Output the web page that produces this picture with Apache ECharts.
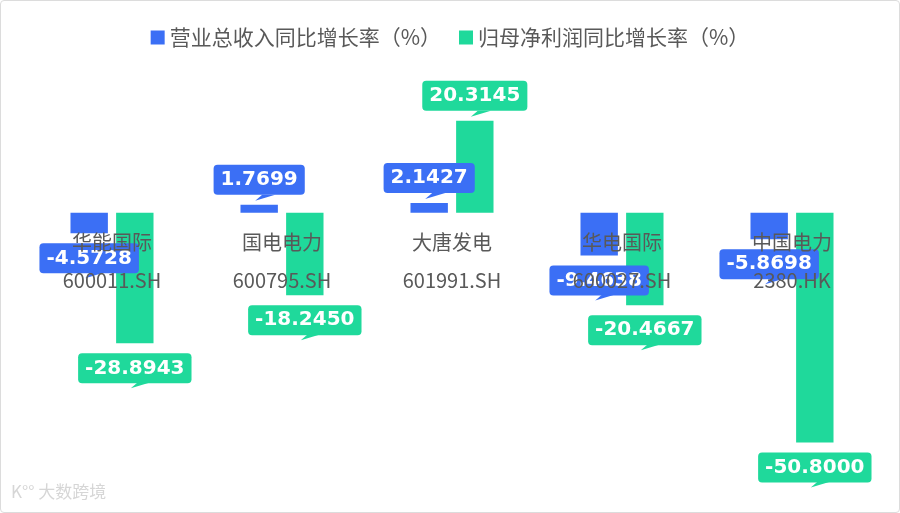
<!DOCTYPE html>
<html>
<head>
<meta charset="utf-8">
<script src="https://cdn.jsdelivr.net/npm/echarts@6/dist/echarts.min.js"></script>
<style>
html,body{margin:0;padding:0;background:#fff;}
#chart{width:900px;height:513px;box-sizing:border-box;border:1px solid #dcdcdc;border-radius:4px;}
</style>
</head>
<body>
<div id="chart"></div>
<script>
const categories = ['华能国际\n600011.SH', '国电电力\n600795.SH', '大唐发电\n601991.SH', '华电国际\n600027.SH', '中国电力\n2380.HK'];
const seriesNames = ['营业总收入同比增长率（%）', '归母净利润同比增长率（%）'];
const revenueGrowth = [-4.5728, 1.7699, 2.1427, -9.4638, -5.8698];
const profitGrowth = [-28.8943, -18.2450, 20.3145, -20.4667, -50.8000];
const colors = ['#3b6ff5', '#1fd99b'];
const yMin = -60, yMax = 30;

const chart = echarts.init(document.getElementById('chart'));

const LABEL_DIST = 10, LABEL_H = 30;

function makeLabel(color) {
  return {
    show: true,
    position: 'top',
    distance: LABEL_DIST,
    formatter: p => p.value.toFixed(4),
    color: '#fff',
    fontFamily: 'DejaVu Sans',
    fontWeight: 'bold',
    fontSize: 20,
    lineHeight: 20,
    backgroundColor: color,
    borderRadius: 4,
    padding: [5, 7, 5, 7]
  };
}

function makeSeries(name, data, color) {
  return {
    name: name,
    type: 'bar',
    barWidth: '22%',
    barGap: '22%',
    itemStyle: { color: color },
    data: data.map(v => ({
      value: v,
      label: Object.assign(makeLabel(color), { position: v >= 0 ? 'top' : 'bottom' })
    })),
    markPoint: {
      silent: true,
      animation: false,
      symbol: 'path://M0,6 L7,0 L20,0 Z',
      symbolSize: [20, 6],
      symbolKeepAspect: false,
      itemStyle: { color: color },
      label: { show: false },
      data: data.map((v, i) => ({
        coord: [i, v],
        symbolOffset: v >= 0 ? [6, -LABEL_DIST + 3] : [6, LABEL_DIST + LABEL_H + 2]
      }))
    }
  };
}

const gridTop = 76, gridBottom = 28;
const plotH = chart.getHeight() - gridTop - gridBottom;
const zeroOffset = -Math.round(plotH * (0 - yMin) / (yMax - yMin));

chart.setOption({
  animation: false,
  color: colors,
  legend: {
    top: 21,
    left: 'center',
    itemWidth: 14,
    itemHeight: 14,
    itemGap: 18,
    icon: 'rect',
    textStyle: { fontSize: 21, color: '#595959', fontFamily: 'Noto Sans CJK SC' },
    data: seriesNames
  },
  grid: { left: 26, right: 22, top: gridTop, bottom: gridBottom, containLabel: false, outerBoundsMode: 'none' },
  xAxis: {
    type: 'category',
    data: categories,
    position: 'bottom',
    offset: zeroOffset,
    axisLine: { show: false, onZero: false },
    axisTick: { show: false },
    axisLabel: {
      fontSize: 20,
      lineHeight: 38,
      margin: 10,
      color: '#595959',
      fontFamily: 'Noto Sans CJK SC'
    },
    z: 10
  },
  yAxis: {
    type: 'value',
    min: yMin,
    max: yMax,
    interval: 10,
    axisLine: { show: false },
    axisTick: { show: false },
    axisLabel: { show: false },
    splitLine: { show: false }
  },
  graphic: [{
    type: 'text',
    left: 10,
    top: 482,
    style: {
      text: 'K°° 大数跨境',
      fontSize: 17,
      fill: '#d6d6d6',
      fontFamily: 'Noto Sans CJK SC'
    }
  }],
  series: [
    makeSeries(seriesNames[0], revenueGrowth, colors[0]),
    makeSeries(seriesNames[1], profitGrowth, colors[1])
  ]
});
</script>
</body>
</html>
